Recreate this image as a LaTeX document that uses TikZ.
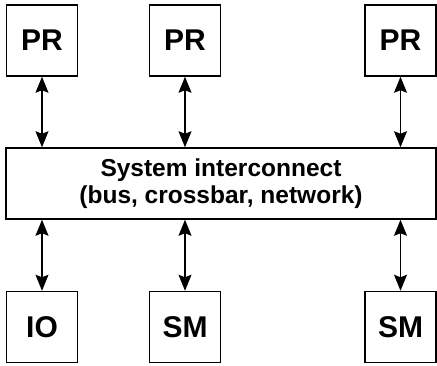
\documentclass[tikz,border=0pt]{standalone}
\usepackage{fontspec}
\setmainfont{Liberation Sans}
\usetikzlibrary{arrows.meta}
\begin{document}
\begin{tikzpicture}[x=1pt,y=-1pt,
  unit/.style={draw,line width=1.5pt,minimum width=71pt,minimum height=71pt,
    inner sep=0pt,font=\fontsize{30}{30}\selectfont\bfseries},
  bus/.style={draw,line width=1.5pt,minimum width=430pt,minimum height=71pt,
    inner sep=0pt,align=center,font=\fontsize{24.5}{27}\selectfont\bfseries},
  link/.style={line width=1.1pt,{Stealth[length=16pt,width=13pt,inset=2.5pt]}-{Stealth[length=16pt,width=13pt,inset=2.5pt]}}]
\useasboundingbox (0,0) rectangle (437,365);
\node[unit] (p1) at (42,40.5) {PR};
\node[unit] (p2) at (185,40.5) {PR};
\node[unit] (p3) at (400.5,40.5) {PR};
\node[bus] (sys) at (221,183.5) {System interconnect\\(bus, crossbar, network)};
\node[unit] (io) at (42,327) {IO};
\node[unit] (m1) at (185,327) {SM};
\node[unit] (m2) at (400.5,327) {SM};
\draw[link] (p1.south) -- (p1.south |- sys.north);
\draw[link] (p2.south) -- (p2.south |- sys.north);
\draw[link] (p3.south) -- (p3.south |- sys.north);
\draw[link] (io.north |- sys.south) -- (io.north);
\draw[link] (m1.north |- sys.south) -- (m1.north);
\draw[link] (m2.north |- sys.south) -- (m2.north);
\end{tikzpicture}
\end{document}
